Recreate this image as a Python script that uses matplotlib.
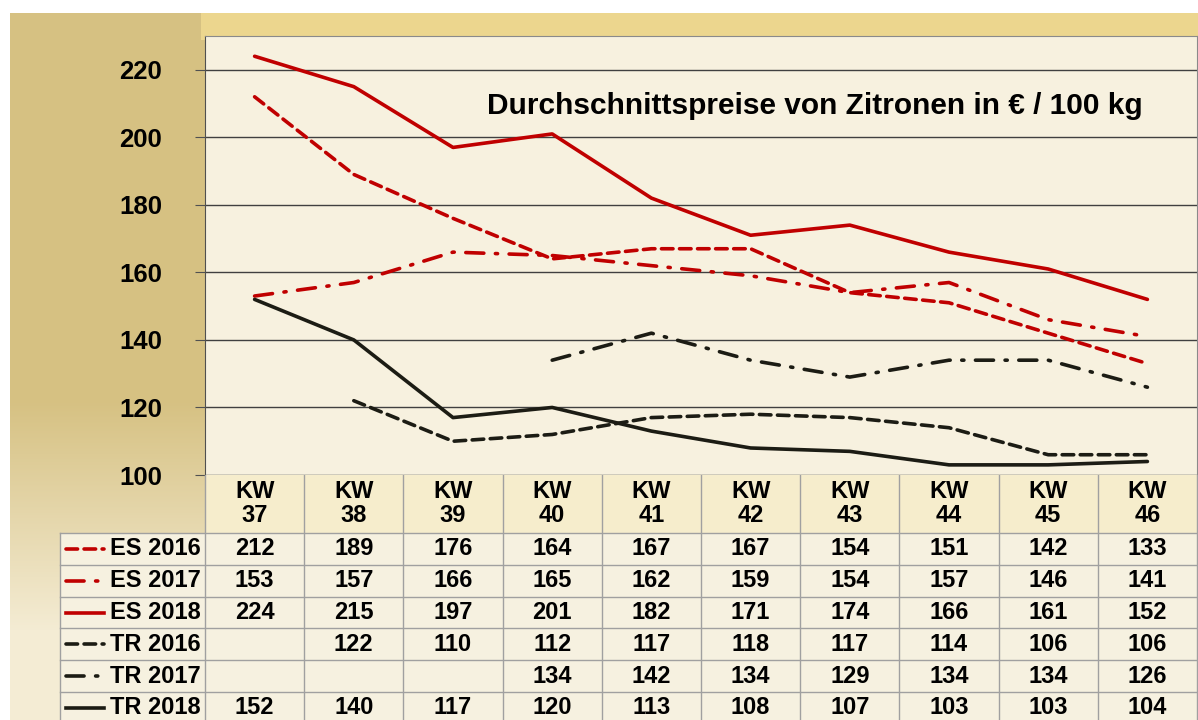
import numpy as np
import matplotlib
matplotlib.use('Agg')
import matplotlib.pyplot as plt
from matplotlib.lines import Line2D
from matplotlib.patches import Rectangle

plt.rcParams['font.family'] = ['Liberation Sans', 'DejaVu Sans']
plt.rcParams['font.weight'] = 'bold'

# data
weeks = ['37', '38', '39', '40', '41', '42', '43', '44', '45', '46']
series_names = ['ES 2016', 'ES 2017', 'ES 2018', 'TR 2016', 'TR 2017', 'TR 2018']
es_2016 = [212, 189, 176, 164, 167, 167, 154, 151, 142, 133]
es_2017 = [153, 157, 166, 165, 162, 159, 154, 157, 146, 141]
es_2018 = [224, 215, 197, 201, 182, 171, 174, 166, 161, 152]
tr_2016 = [None, 122, 110, 112, 117, 118, 117, 114, 106, 106]
tr_2017 = [None, None, None, 134, 142, 134, 129, 134, 134, 126]
tr_2018 = [152, 140, 117, 120, 113, 108, 107, 103, 103, 104]
all_series = [es_2016, es_2017, es_2018, tr_2016, tr_2017, tr_2018]
title = 'Durchschnittspreise von Zitronen in € / 100 kg'

red = '#c00000'
dark = '#1c1c14'
styles = [
    dict(color=red, ls=(0, (3.2, 1.8))),
    dict(color=red, ls=(0, (5, 3.2, 0.6, 3.2))),
    dict(color=red, ls='-'),
    dict(color=dark, ls=(0, (3.2, 1.8))),
    dict(color=dark, ls=(0, (5, 3.2, 0.6, 3.2))),
    dict(color=dark, ls='-'),
]

W, H = 1198, 720
fig = plt.figure(figsize=(W / 100, H / 100), dpi=100)

# background panel
yy, xx = np.mgrid[0:H, 0:W]
gold = np.array([214, 193, 130]) / 255
cream = np.array([244, 236, 212]) / 255
yellow = np.array([236, 214, 142]) / 255
t = np.clip((yy - 400) / 230.0, 0, 1)[..., None]
img = gold * (1 - t) + cream * t
band = ((yy < 40) & (xx > 200))[..., None]
img = np.where(band, yellow, img)
white = ((xx < 10) | (yy < 13))[..., None]
img = np.where(white, 1.0, img)
bg = fig.add_axes([0, 0, 1, 1])
bg.imshow(img, extent=[0, W, H, 0], aspect='auto', interpolation='bilinear')
bg.set_xlim(0, W)
bg.set_ylim(H, 0)
bg.axis('off')

# main chart
x0, x1, ytop, ybot = 205, 1197, 36, 475
ax = fig.add_axes([x0 / W, 1 - ybot / H, (x1 - x0) / W, (ybot - ytop) / H])
ax.set_facecolor((0.97, 0.945, 0.875))
x = np.arange(len(weeks))
for vals, st in zip(all_series, styles):
    v = np.array([np.nan if a is None else a for a in vals], dtype=float)
    ax.plot(x, v, color=st['color'], linestyle=st['ls'], lw=2.6,
            dash_capstyle='round', solid_capstyle='round')
ax.set_xlim(-0.5, len(weeks) - 0.5)
ax.set_ylim(100, 230)
ax.set_yticks(range(100, 221, 20))
ax.set_xticks([])
ax.yaxis.grid(True, color='#404040', lw=1)
ax.set_axisbelow(True)
ax.tick_params(axis='y', direction='out', length=7, color='#505050',
               pad=24, labelsize=18.5)
for lab in ax.get_yticklabels():
    lab.set_fontweight('bold')
ax.spines['left'].set_color('#505050')
ax.spines['top'].set_color('#8a8a8a')
ax.spines['right'].set_color('#8a8a8a')
ax.spines['bottom'].set_color('#9a9a9a')
ax.text(282 / (x1 - x0), 1 - 70 / (ybot - ytop), title, transform=ax.transAxes,
        fontsize=21.5, fontweight='bold', ha='left', va='center', color='black')

# data table below the chart
tab = fig.add_axes([0, 0, 1, (H - ybot) / H])
tab.set_xlim(0, W)
tab.set_ylim(H, ybot)
tab.axis('off')
colw = (x1 - x0) / len(weeks)
lab_x0 = 60
head_bot = 533
rowh = 31.8
grid_c = '#a0a0a0'

tab.add_patch(Rectangle((x0, ybot), x1 - x0, head_bot - ybot,
                        facecolor=(0.965, 0.93, 0.80), edgecolor='none'))
tab.add_patch(Rectangle((lab_x0, head_bot), x1 - lab_x0, H - head_bot,
                        facecolor=(0.965, 0.945, 0.88), edgecolor='none'))

for i, w in enumerate(weeks):
    cx = x0 + colw * (i + 0.5)
    tab.text(cx, 491, 'KW', ha='center', va='center', fontsize=17,
             fontweight='bold')
    tab.text(cx, 516, w, ha='center', va='center', fontsize=17,
             fontweight='bold')

for r, (name, vals, st) in enumerate(zip(series_names, all_series, styles)):
    cy = head_bot + rowh * (r + 0.5)
    tab.add_line(Line2D([66, 104], [cy, cy], color=st['color'],
                        linestyle=st['ls'], lw=2.6, dash_capstyle='round'))
    tab.text(201, cy, name, ha='right', va='center', fontsize=17,
             fontweight='bold')
    for i, v in enumerate(vals):
        if v is None:
            continue
        tab.text(x0 + colw * (i + 0.5), cy, str(v), ha='center', va='center',
                 fontsize=17, fontweight='bold')

# table grid
for i in range(len(weeks) + 1):
    xv = x0 + colw * i
    tab.plot([xv, xv], [ybot, H], color=grid_c, lw=1)
tab.plot([lab_x0, lab_x0], [head_bot, H], color=grid_c, lw=1)
for r in range(len(series_names)):
    yv = head_bot + rowh * r
    tab.plot([lab_x0, x1], [yv, yv], color=grid_c, lw=1)

fig.savefig('out.png', dpi=100)
